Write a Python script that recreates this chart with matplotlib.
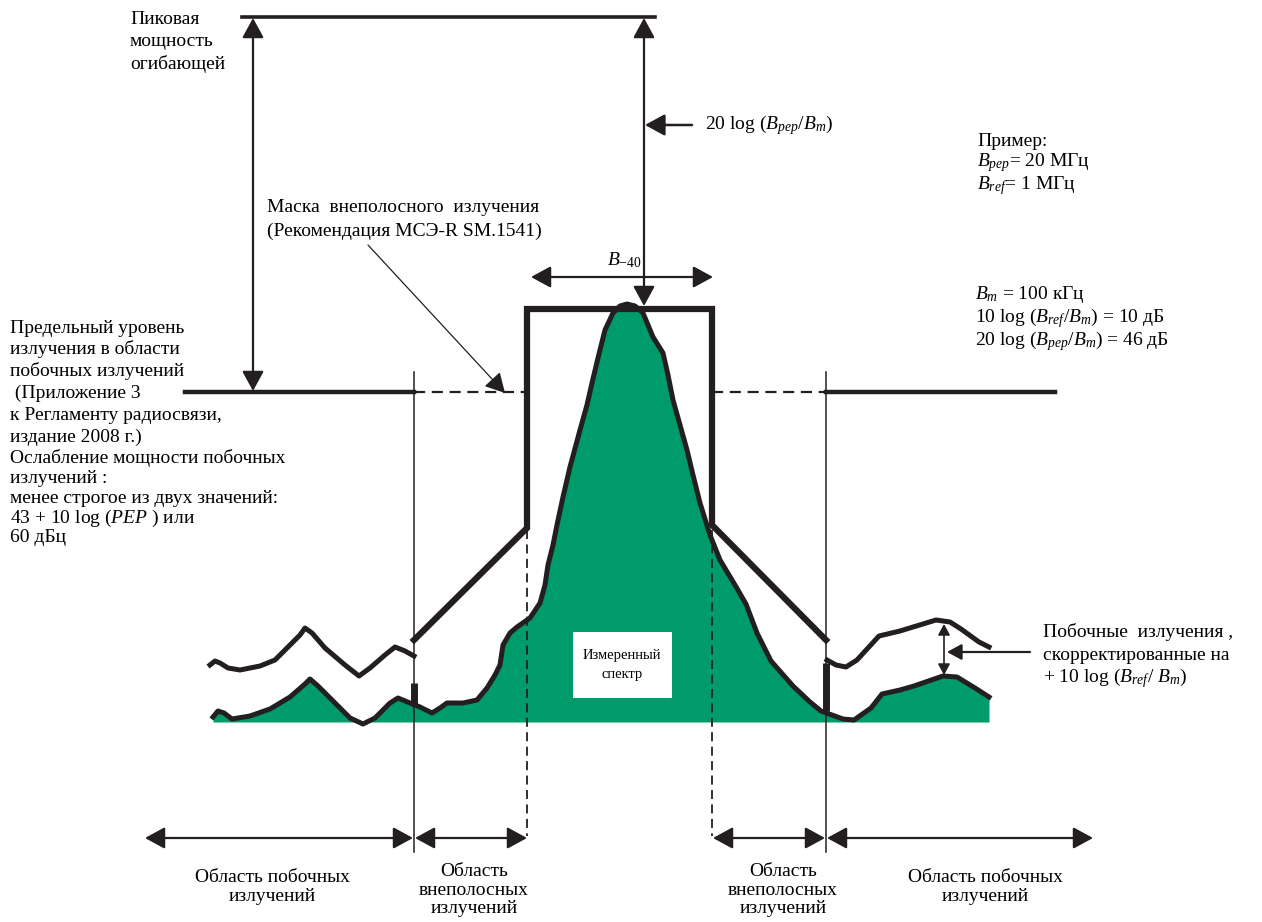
import numpy as np
import matplotlib.pyplot as plt

plt.rcParams['font.family'] = ['Liberation Serif', 'DejaVu Serif']
plt.rcParams['mathtext.fontset'] = 'custom'
plt.rcParams['mathtext.rm'] = 'Liberation Serif'
plt.rcParams['mathtext.it'] = 'Liberation Serif:italic'

# measured spectrum (frequency position, level) in drawing units
spec_x = [213, 218, 224, 232, 250, 270, 290, 305, 310, 318, 335, 350, 363, 375, 390, 398,
          410, 420, 432, 440, 447, 463, 477, 487, 495, 500, 503, 510, 517, 530, 540, 545,
          548, 553, 557, 563, 570, 580, 587, 592, 598, 605, 613, 620, 627, 635, 643, 653,
          663, 668, 673, 680, 687, 693, 700, 710, 720, 735, 746, 757, 771, 793, 810, 821,
          843, 854, 871, 882, 900, 914, 943, 957, 975, 989]
spec_y = [717, 711, 713, 719, 716, 709, 697, 684, 679, 686, 703, 718, 724, 718, 703, 698,
          703, 707, 713, 708, 703, 703, 700, 688, 675, 665, 645, 633, 627, 618, 603, 585,
          565, 545, 525, 497, 467, 430, 405, 383, 358, 330, 313, 306, 304, 306, 313, 337,
          353, 375, 400, 425, 450, 475, 503, 535, 560, 585, 604, 633, 661, 686, 702, 711,
          719, 720, 708, 694, 690, 686, 676, 677, 688, 697]
spec_floor = 722

# spurious emissions corrected by +10 log(Bref/Bm)
corr_left_x = [210, 215, 220, 228, 240, 260, 275, 290, 300, 305, 312, 325, 345, 359, 370, 385, 395, 405, 414]
corr_left_y = [665, 661, 663, 668, 670, 666, 660, 645, 635, 628, 633, 648, 665, 676, 668, 655, 647, 651, 656]
corr_right_x = [827, 836, 846, 857, 868, 879, 900, 936, 950, 961, 979, 989]
corr_right_y = [660, 665, 667, 660, 648, 636, 631, 620, 622, 629, 642, 647]

# out-of-band mask (SM.1541)
mask_x = [414, 527, 527, 712, 712, 826]
mask_y = [640, 528, 309, 309, 525, 640]

# levels and boundaries
peak_level = 17
spur_limit = 392
oob_edges = [527, 712]
spur_edges = [414, 826]
b40_edges = [531, 713]

ink = '#231f20'
green = '#009b6a'

fig = plt.figure(figsize=(12.62, 9.22), dpi=100)
ax = fig.add_axes([0, 0, 1, 1])
ax.set_xlim(0, 1262)
ax.set_ylim(922, 0)
ax.axis('off')


def arrow(x0, y0, x1, y1, style='<|-|>', lw=1.6, ms=22):
    ax.annotate('', xy=(x1, y1), xytext=(x0, y0),
                arrowprops=dict(arrowstyle=style + ',head_length=0.55,head_width=0.3',
                                lw=lw, color=ink, shrinkA=0, shrinkB=0,
                                mutation_scale=ms))


# spectrum
sx = np.array(spec_x)
sy = np.array(spec_y)
ax.fill_between(sx, sy, spec_floor, color=green, lw=0, zorder=1)
ax.plot(sx, sy, color=ink, lw=3.6, solid_joinstyle='round', zorder=3)
ax.plot(corr_left_x, corr_left_y, color=ink, lw=3.6, solid_joinstyle='round', zorder=3)
ax.plot(corr_right_x, corr_right_y, color=ink, lw=3.6, solid_joinstyle='round', zorder=3)

# mask
ax.plot(mask_x, mask_y, color=ink, lw=4.5, solid_joinstyle='miter', zorder=4)

# peak envelope level line
ax.plot([242, 655], [peak_level, peak_level], color=ink, lw=2.6)

# spurious limit line
ax.plot([185, spur_edges[0]], [spur_limit, spur_limit], color=ink, lw=3.2)
ax.plot([spur_edges[1], 1055], [spur_limit, spur_limit], color=ink, lw=3.2)
ax.plot([spur_edges[0], oob_edges[0]], [spur_limit, spur_limit], color=ink, lw=1.6, ls=(0, (5, 3)))
ax.plot([oob_edges[1], spur_edges[1]], [spur_limit, spur_limit], color=ink, lw=1.6, ls=(0, (5, 3)))

# boundaries
for x in spur_edges:
    ax.plot([x, x], [372, 852], color=ink, lw=1.1, zorder=2)
for x in oob_edges:
    ax.plot([x, x], [530, 836], color=ink, lw=1.3, ls=(0, (5, 3)), zorder=2)
ax.plot([414, 414], [683, 706], color=ink, lw=5, solid_capstyle='butt', zorder=4)
ax.plot([826, 826], [663, 711], color=ink, lw=5, solid_capstyle='butt', zorder=4)

# vertical arrows
arrow(253, peak_level + 1, 253, spur_limit - 1)
arrow(644, peak_level + 1, 644, 306)
arrow(692, 125, 645, 125, style='-|>', lw=1.8)
arrow(b40_edges[0], 277, b40_edges[1], 277)
arrow(944, 624, 944, 675, lw=1.2, ms=12)
arrow(1030, 652, 947, 652, style='-|>', lw=1.6, ms=16)
arrow(368, 245, 505, 393, style='-|>', lw=0.9, ms=22)

# bottom region arrows
arrow(145, 838, 413, 838)
arrow(415, 838, 527, 838)
arrow(713, 838, 825, 838)
arrow(827, 838, 1093, 838)

fs = 14
# measured spectrum label
ax.add_patch(plt.Rectangle((573, 632), 99, 66, facecolor='white', edgecolor='none', zorder=5))
ax.text(622, 655, 'Измеренный', ha='center', va='center', fontsize=10.5, zorder=6)
ax.text(622, 674, 'спектр', ha='center', va='center', fontsize=10.5, zorder=6)

for s, y in zip(['Пиковая', 'мощность', 'огибающей'], [19, 42, 64]):
    ax.text(130, y, s, ha='left', va='center', fontsize=fs)
ax.text(705, 125, r'20 log ($B_{рер}$/$B_m$)', ha='left', va='center', fontsize=fs)
ax.text(977, 141, 'Пример:', ha='left', va='center', fontsize=fs)
ax.text(977, 163, r'$B_{рер}$= 20 МГц', ha='left', va='center', fontsize=fs)
ax.text(977, 186, r'$B_{ref}$= 1 МГц', ha='left', va='center', fontsize=fs)
ax.text(267, 207, 'Маска  внеполосного  излучения', ha='left', va='center', fontsize=fs)
ax.text(267, 231, '(Рекомендация МСЭ-R SM.1541)', ha='left', va='center', fontsize=fs)
ax.text(607, 260, r'$B_{-40}$', ha='left', va='center', fontsize=fs)
ax.text(975, 294, r'$B_m$ = 100 кГц', ha='left', va='center', fontsize=fs)
ax.text(975, 318, r'10 log ($B_{ref}$/$B_m$) = 10 дБ', ha='left', va='center', fontsize=fs)
ax.text(975, 341, r'20 log ($B_{рер}$/$B_m$) = 46 дБ', ha='left', va='center', fontsize=fs)

left_lines = ['Предельный уровень', 'излучения в области', 'побочных излучений',
              ' (Приложение 3', 'к Регламенту радиосвязи,', 'издание 2008 г.)',
              'Ослабление мощности побочных', 'излучений :',
              'менее строгое из двух значений:', r'43 + 10 log ($PEP$ ) или', '60 дБц']
left_y = [328, 349, 371, 393, 415, 437, 458, 478, 498, 518, 537]
for s, y in zip(left_lines, left_y):
    ax.text(10, y, s, ha='left', va='center', fontsize=fs)

ax.text(1043, 632, 'Побочные  излучения ,', ha='left', va='center', fontsize=fs)
ax.text(1043, 655, 'скорректированные на', ha='left', va='center', fontsize=fs)
ax.text(1043, 678, r'+ 10 log ($B_{ref}$/ $B_m$)', ha='left', va='center', fontsize=fs)

# region labels
ax.text(272, 887, 'Область побочных\nизлучений', ha='center', va='center', fontsize=fs, linespacing=1.1)
ax.text(474, 890, 'Область\nвнеполосных\nизлучений', ha='center', va='center', fontsize=fs, linespacing=1.1)
ax.text(783, 890, 'Область\nвнеполосных\nизлучений', ha='center', va='center', fontsize=fs, linespacing=1.1)
ax.text(985, 887, 'Область побочных\nизлучений', ha='center', va='center', fontsize=fs, linespacing=1.1)

fig.savefig('out.png', dpi=100)
